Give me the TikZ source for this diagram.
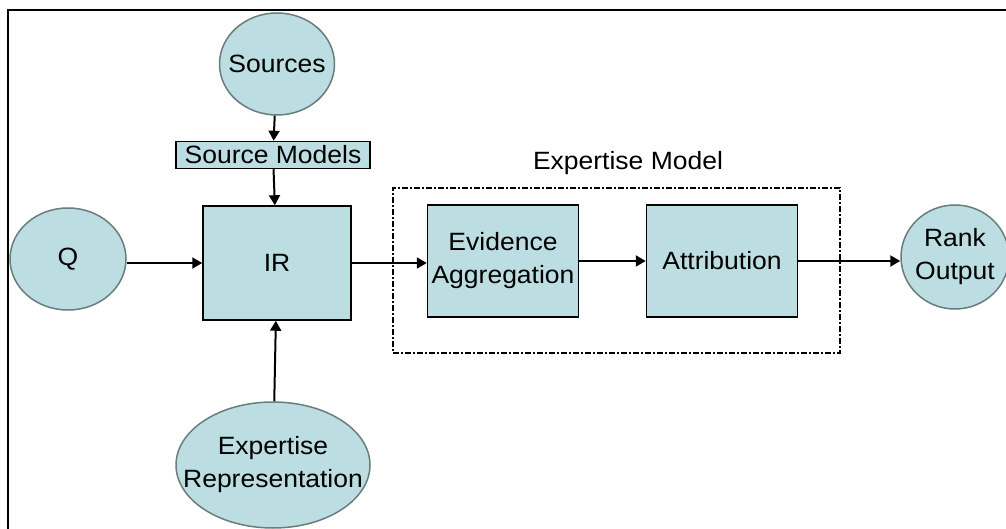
\documentclass[tikz,border=0pt]{standalone}
\usepackage{fontspec}
\setmainfont{Liberation Sans}[FakeStretch=1.06]
\usetikzlibrary{shapes.geometric,arrows.meta}
\definecolor{blobfill}{RGB}{188,222,226}
\definecolor{blobline}{RGB}{105,125,125}
\begin{document}
\begin{tikzpicture}[x=1pt,y=-1pt,
    font=\fontsize{25}{33}\selectfont,
    blob/.style={ellipse,draw=blobline,line width=1.5pt,fill=blobfill,inner sep=0pt,
      label={[align=center]center:#1}},
    block/.style={rectangle,draw=black,line width=1.5pt,fill=blobfill,inner sep=0pt,align=center},
    link/.style={line width=2pt,-{Triangle[length=10pt,width=11pt]}}]
  \useasboundingbox (0,0) rectangle (1006,529);
  \clip (0,0) rectangle (1006,529);
  % Frame
  \draw [line width=2pt] (8,10) rectangle (1030,560);
  % Nodes
  \node (src) [blob=Sources,minimum width=115pt,minimum height=102pt] at (277,64) {};
  \node (srcmod) [block,minimum width=194pt,minimum height=27pt] at (273,155) {Source Models};
  \node (ir) [block,minimum width=148pt,minimum height=114pt] at (277,263) {IR};
  \node (q) [blob=Q,minimum width=116pt,minimum height=102pt] at (68,259) {};
  \node (exprep) [blob={Expertise\\Representation},minimum width=194pt,minimum height=126pt] at (273,465) {};
  \node (expmodel) [draw,line width=1.2pt,dash pattern=on 6pt off 2pt on 2pt off 2pt,
    minimum width=447pt,minimum height=165pt,inner sep=0pt] at (616.5,270.5) {};
  \node (explabel) at (628,163) {Expertise Model};
  \node (evagg) [block,minimum width=151pt,minimum height=112pt] at (503,261) {Evidence\\Aggregation};
  \node (attrib) [block,minimum width=151pt,minimum height=112pt] at (722,261) {Attribution};
  \node (rank) [blob={Rank\\Output},minimum width=108pt,minimum height=104pt] at (955,257) {};
  % Connectors
  \draw [link] (src) -- (srcmod);
  \draw [link] (srcmod) -- (ir);
  \draw [link] (q.east |- ir.west) -- (ir.west);
  \draw [link] (exprep) -- (ir);
  \draw [link] (ir.east) -- (evagg.west |- ir.east);
  \draw [link] (evagg) -- (attrib);
  \draw [link] (attrib.east) -- (attrib.east -| rank.west);
\end{tikzpicture}
\end{document}
